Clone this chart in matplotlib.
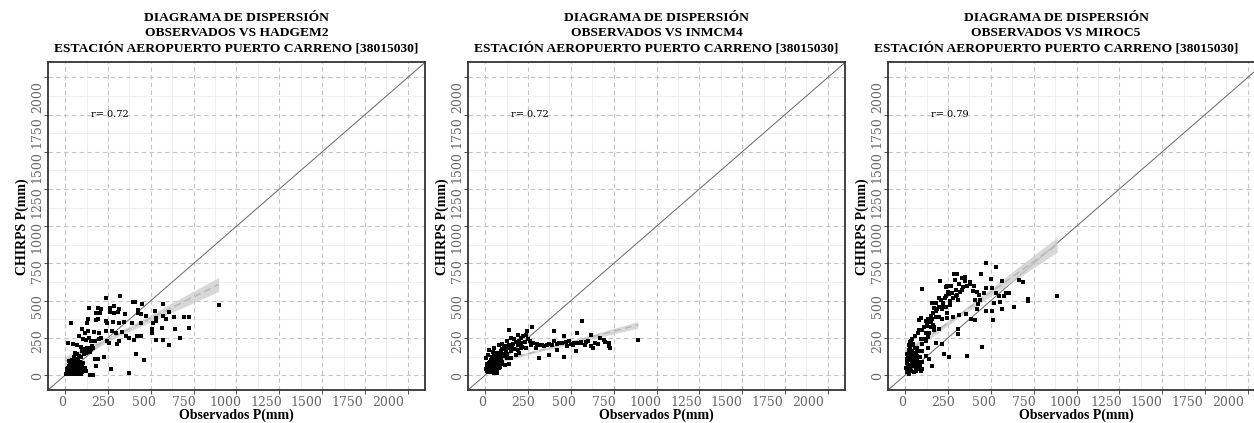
import numpy as np
import matplotlib
matplotlib.use("Agg")
import matplotlib.pyplot as plt

# ---- data (Observados, CHIRPS) in mm ----
station = "ESTACIÓN AEROPUERTO PUERTO CARRENO [38015030]"
models = ["HADGEM2", "INMCM4", "MIROC5"]
r_values = [0.72, 0.72, 0.79]

hadgem2_pts = [
    (318, 531), (237, 515), (396, 493), (405, 493), (450, 479), (570, 475), (896, 470),
    (140, 448), (190, 448), (211, 446), (262, 448), (314, 446), (283, 462), (310, 426),
    (425, 437), (178, 419), (205, 419), (262, 426), (283, 419), (347, 408), (524, 430),
    (605, 426), (692, 392), (721, 392), (528, 386), (570, 397), (586, 375), (634, 392),
    (134, 375), (178, 370), (194, 375), (240, 363), (246, 352), (279, 357), (314, 352),
    (343, 357), (35, 352), (130, 352), (512, 352), (528, 363), (442, 352), (392, 352),
    (425, 419), (440, 408), (470, 397), (640, 308), (721, 319), (566, 319), (508, 312),
    (97, 308), (114, 285), (136, 297), (169, 292), (198, 285), (237, 297), (275, 297),
    (295, 281), (334, 292), (353, 263), (372, 252), (400, 234), (419, 263), (444, 263),
    (508, 281), (531, 234), (570, 236), (673, 252), (605, 201), (81, 263), (103, 241),
    (124, 234), (140, 252), (149, 230), (175, 230), (198, 241), (211, 252), (242, 230),
    (256, 214), (305, 207), (314, 230), (17, 214), (43, 207), (72, 201), (91, 192),
    (111, 178), (134, 163), (145, 152), (175, 111), (194, 111), (227, 125), (411, 145),
    (460, 103), (178, 62), (266, 40), (372, 13), (145, 4), (162, 4),
    (60, 150), (70, 140), (80, 130), (95, 120), (100, 160), (110, 140), (120, 150),
    (125, 170), (130, 180), (140, 185), (150, 175), (155, 195), (160, 180), (50, 120),
    (55, 100), (65, 95), (75, 110), (85, 90), (90, 75), (100, 60), (105, 80), (115, 50),
    (120, 30), (90, 40), (80, 55), (70, 60),
    (5, 5), (10, 10), (15, 5), (20, 15), (25, 8), (30, 20), (35, 10), (40, 30), (45, 15),
    (50, 25), (55, 10), (60, 40), (65, 20), (70, 30), (75, 5), (80, 15), (85, 25),
    (10, 30), (15, 45), (20, 60), (25, 35), (30, 50), (35, 70), (40, 55), (45, 80),
    (50, 45), (55, 65), (60, 70), (8, 20), (12, 40), (18, 25), (22, 50), (28, 15),
    (33, 40), (38, 5), (42, 20), (48, 35), (52, 55), (58, 5), (62, 50), (68, 45),
    (72, 75), (78, 40), (88, 10), (95, 5), (100, 20), (30, 85), (20, 95), (40, 100),
]

inmcm4_pts = [
    (568, 362), (140, 306), (276, 324), (243, 295), (538, 286), (616, 272), (402, 295),
    (461, 263), (671, 250), (694, 234), (723, 217), (727, 183), (630, 185), (591, 223),
    (558, 214), (519, 219), (500, 212), (480, 196), (432, 219), (402, 228), (373, 212),
    (344, 194), (315, 201), (373, 134), (315, 112), (461, 123), (422, 167), (529, 163),
    (208, 250), (189, 268), (169, 241), (150, 246), (130, 228), (101, 212), (82, 201),
    (52, 179), (111, 190), (134, 179), (159, 183), (189, 201), (218, 190), (237, 179),
    (266, 201), (295, 179), (150, 112), (140, 78), (72, 11), (14, 134), (4, 112),
    (33, 100), (62, 116), (87, 134), (111, 145), (43, 156), (23, 167), (72, 78),
    (97, 89), (115, 67), (130, 116), (179, 134), (200, 150),
    (892, 234), (250, 240), (230, 225), (210, 215), (260, 230), (280, 215), (300, 210),
    (330, 205), (360, 200), (390, 205), (420, 210), (450, 215), (470, 225), (490, 230),
    (510, 205), (540, 215), (560, 225), (600, 230), (640, 215), (580, 200), (620, 195),
    (660, 210), (700, 220), (720, 195), (220, 260), (240, 270), (200, 230), (180, 220),
    (160, 210), (140, 200), (120, 195), (100, 175), (90, 160), (70, 150), (60, 140),
    (50, 130), (40, 120), (30, 90), (20, 80), (25, 60), (35, 70), (45, 85), (55, 95),
    (65, 110), (75, 120), (85, 100), (95, 115), (105, 130), (120, 160), (130, 140),
    (150, 160), (170, 175), (190, 170), (210, 180),
    (5, 40), (10, 30), (15, 50), (20, 40), (25, 25), (30, 35), (35, 45), (40, 55),
    (45, 30), (50, 60), (55, 40), (60, 70), (65, 50), (70, 80), (75, 60), (80, 45),
    (85, 70), (10, 60), (15, 20), (20, 70), (30, 55), (40, 20), (50, 15), (60, 30),
    (8, 50), (12, 75), (18, 55), (22, 35), (28, 65), (33, 25), (38, 80), (42, 45),
    (48, 70), (52, 35), (58, 85), (62, 60), (68, 40), (72, 55), (78, 90), (88, 55),
    (92, 75), (100, 80),
]

miroc5_pts = [
    (473, 754), (528, 725), (285, 676), (305, 676), (440, 676), (204, 631), (499, 647),
    (566, 631), (667, 636), (689, 627), (101, 580), (237, 593), (246, 598), (347, 631),
    (376, 624), (314, 609), (334, 575), (299, 575), (275, 553), (295, 531), (256, 542),
    (237, 531), (310, 504), (260, 497), (198, 520), (207, 502), (159, 482), (178, 482),
    (223, 482), (396, 564), (405, 502), (425, 475), (434, 504), (508, 586), (528, 553),
    (590, 553), (609, 553), (576, 531), (547, 531), (555, 491), (520, 486), (508, 430),
    (563, 441), (634, 459), (718, 513), (718, 497), (887, 531), (470, 586), (459, 553),
    (169, 448), (188, 441), (217, 441), (246, 419), (198, 392), (178, 392), (217, 379),
    (136, 379), (78, 370), (91, 386), (120, 363), (149, 357), (159, 379), (246, 386),
    (281, 392), (314, 401), (353, 408), (382, 375), (405, 368), (419, 441), (514, 368),
    (470, 430), (130, 330), (169, 323), (198, 308), (310, 308), (308, 274), (136, 259),
    (74, 285), (91, 241), (111, 241), (33, 230), (43, 207), (72, 185), (136, 185),
    (217, 207), (178, 219), (227, 140), (256, 125), (363, 129), (450, 190), (140, 107),
    (159, 62), (101, 85), (120, 129), (97, 163), (87, 40),
    (300, 540), (320, 560), (340, 590), (360, 600), (280, 520), (260, 470), (240, 455),
    (220, 470), (200, 460), (180, 430), (160, 420), (150, 400), (230, 520), (250, 560),
    (270, 600), (290, 640), (330, 650), (350, 660), (380, 610), (400, 600), (420, 560),
    (430, 540), (150, 320), (160, 340), (170, 300), (120, 280), (100, 300), (110, 320),
    (130, 350), (60, 260), (80, 300), (100, 210), (120, 230), (140, 280),
    (5, 50), (10, 80), (15, 120), (20, 150), (25, 100), (30, 70), (35, 130), (40, 160),
    (45, 90), (50, 120), (55, 60), (60, 180), (65, 140), (70, 100), (75, 50), (80, 160),
    (85, 120), (10, 20), (15, 40), (20, 10), (25, 170), (30, 190), (35, 30), (40, 60),
    (45, 200), (50, 20), (55, 150), (60, 90), (65, 30), (70, 130), (8, 110), (12, 140),
    (18, 70), (22, 130), (28, 40), (33, 100), (38, 80), (42, 110), (48, 140), (52, 80),
    (58, 110), (62, 50), (68, 70), (72, 160), (78, 90), (88, 60), (92, 30), (100, 40),
    (20, 200), (30, 220), (40, 240),
]

# linear fit (geom_smooth): x positions, centre, half width of band
fit_x = [[0, 300, 896], [0, 300, 892], [0, 300, 887]]
fit_y = [[96, 268, 609], [70, 160, 338], [145, 391, 876]]
fit_half = [[30, 14, 47], [14, 7, 22], [25, 14, 50]]

ticks = np.arange(0, 2001, 250)
minor = np.arange(125, 2001, 250)
tick_labels = [str(t) for t in ticks]

plt.rcParams["font.family"] = ["DejaVu Serif"]

fig = plt.figure(figsize=(12.54, 4.23), dpi=100)
lefts = [48, 468, 888]
title_x = [0.5, 0.5, 0.446]
for i, model in enumerate(models):
    ax = fig.add_axes([lefts[i] / 1254, 33 / 423, 377 / 1254, 327.5 / 423])
    pts = np.array([hadgem2_pts, inmcm4_pts, miroc5_pts][i], dtype=float)

    ax.set_xlim(-100, 2100)
    ax.set_ylim(-100, 2100)

    # grid
    for v in minor:
        ax.axvline(v, color="#ececec", linewidth=0.6, zorder=0)
        ax.axhline(v, color="#ececec", linewidth=0.6, zorder=0)
    for v in ticks:
        ax.axvline(v, color="#c4c4c4", linestyle=(0, (4, 3)), linewidth=0.8, zorder=0)
        ax.axhline(v, color="#c4c4c4", linestyle=(0, (4, 3)), linewidth=0.8, zorder=0)

    # tick marks on the grid values, labels drawn slightly compressed as in the source
    ax.set_xticks(ticks, minor=True)
    ax.set_yticks(ticks, minor=True)
    ax.tick_params(which="minor", length=3, color="#333333")
    ax.set_xticks(ticks * 0.953 - 19, labels=tick_labels)
    ax.set_yticks(ticks * 0.939 - 9, labels=tick_labels)
    ax.tick_params(which="major", length=0, labelcolor="#666666", labelsize=9, pad=4)
    ax.tick_params(axis="y", labelrotation=90, pad=3)
    for lab in ax.get_yticklabels():
        lab.set_va("center")
    for sp in ax.spines.values():
        sp.set_color("#333333")
        sp.set_linewidth(1.3)

    ax.axline((0, 0), slope=1, color="#666666", linewidth=0.7, zorder=2)

    fx = np.array(fit_x[i], dtype=float)
    fy = np.array(fit_y[i], dtype=float)
    fh = np.array(fit_half[i], dtype=float)
    ax.fill_between(fx, fy - fh, fy + fh, color="#cfcfcf", alpha=0.8, linewidth=0, zorder=3)
    ax.plot(fx, fy, color="#b5b5b5", linestyle=(0, (5, 3)), linewidth=1.0, zorder=3)

    ax.scatter(pts[:, 0], pts[:, 1], s=5, marker="s", color="black", linewidths=0, zorder=4)

    ax.text(150, 1750, f"r= {r_values[i]:.2f}", fontsize=7, va="center", ha="left")

    ax.set_xlabel("Observados P(mm)", fontsize=10, fontweight="bold", labelpad=0,
                  family="Liberation Serif")
    ax.set_ylabel("CHIRPS P(mm)", fontsize=10, fontweight="bold", labelpad=1,
                  family="Liberation Serif")
    ax.set_title(f"DIAGRAMA DE DISPERSIÓN\nOBSERVADOS VS {model}\n{station}",
                 x=title_x[i], fontsize=9.7, fontweight="bold", linespacing=1.3, pad=8,
                 family="Liberation Serif")

fig.savefig("out.png", dpi=100)
